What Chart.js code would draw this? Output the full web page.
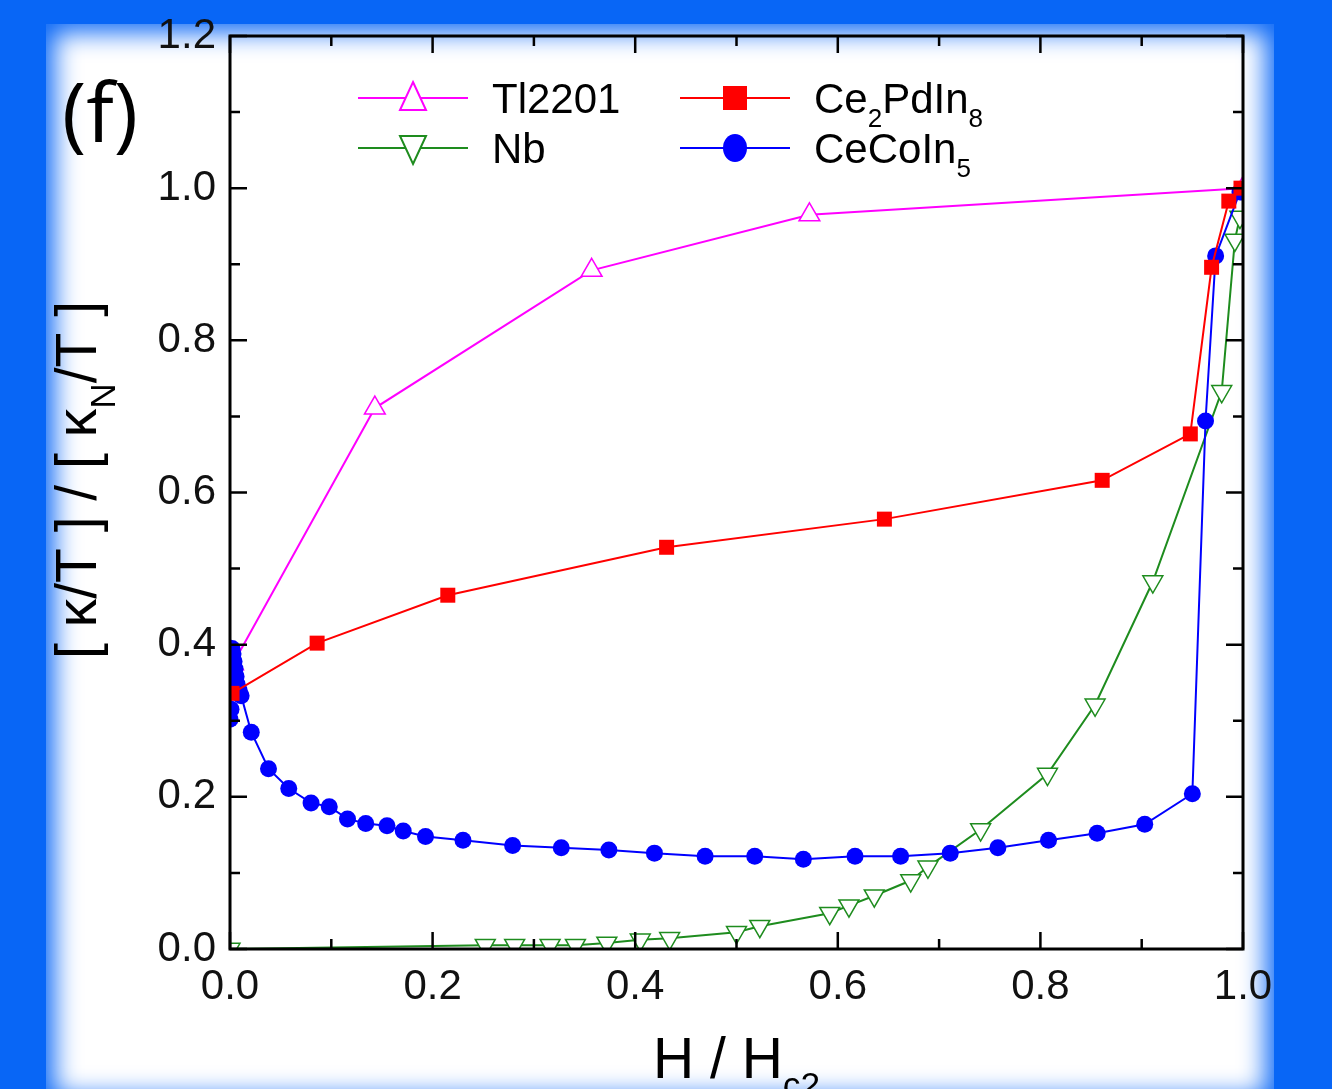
<!DOCTYPE html>
<html lang="en">
<head>
  <meta charset="UTF-8">
  <title>Normalized thermal conductivity vs H / Hc2</title>
  <script src="https://cdn.jsdelivr.net/npm/chart.js"></script>
  <style>
    body {
      margin: 0;
      background: #0866f6;
      overflow: hidden;
    }
    #wrap {
      position: relative;
      width: 1332px;
      height: 1089px;
    }
    #panel {
      position: absolute;
      left: 46px;
      top: 24px;
      width: 1228px;
      height: 1080px;
      background: #fff;
      box-shadow: inset 0 0 26px 8px #0866f6;
    }
    #chart-container {
      position: absolute;
      left: 0;
      top: 0;
      width: 1332px;
      height: 1089px;
    }
  </style>
</head>
<body>

  <div id="wrap">
    <div id="panel"></div>
    <div id="chart-container">
      <canvas id="chart"></canvas>
    </div>
  </div>

  <script>
    // Tl2201 (open up triangles, magenta)
    const tlX = [0.003, 0.143, 0.357, 0.572, 1.0];
    const tlY = [0.375, 0.711, 0.892, 0.965, 1.0];

    // Nb (open down triangles, green)
    const nbX = [0.0, 0.252, 0.281, 0.316, 0.341, 0.372, 0.405, 0.434, 0.500, 0.523, 0.592, 0.611,
                 0.636, 0.672, 0.689, 0.741, 0.807, 0.854, 0.911, 0.979, 0.992, 0.997];
    const nbY = [0.0, 0.005, 0.005, 0.005, 0.005, 0.008, 0.012, 0.014, 0.022, 0.030, 0.047, 0.057,
                 0.070, 0.090, 0.108, 0.157, 0.230, 0.321, 0.483, 0.733, 0.932, 0.962];

    // Ce2PdIn8 (filled squares, red)
    const cpX = [0.002, 0.086, 0.215, 0.431, 0.646, 0.861, 0.948, 0.969, 0.986, 0.998];
    const cpY = [0.336, 0.402, 0.465, 0.528, 0.565, 0.616, 0.677, 0.896, 0.983, 1.0];

    // CeCoIn5 (filled circles, blue)
    const ccX = [0.000, 0.001, 0.002, 0.003, 0.004, 0.005, 0.006, 0.007, 0.009, 0.011, 0.021, 0.038,
                 0.058, 0.080, 0.098, 0.116, 0.134, 0.155, 0.171, 0.193, 0.230, 0.279, 0.327, 0.374,
                 0.419, 0.469, 0.518, 0.566, 0.617, 0.662, 0.711, 0.758, 0.808, 0.856, 0.903, 0.950,
                 0.963, 0.973, 0.997];
    const ccY = [0.302, 0.315, 0.395, 0.388, 0.378, 0.368, 0.358, 0.348, 0.340, 0.333, 0.285, 0.237,
                 0.211, 0.192, 0.187, 0.171, 0.165, 0.162, 0.155, 0.148, 0.143, 0.136, 0.133, 0.130,
                 0.126, 0.122, 0.122, 0.118, 0.122, 0.122, 0.126, 0.133, 0.143, 0.152, 0.164, 0.204,
                 0.694, 0.911, 0.995];

    const xTicks = [0, 0.2, 0.4, 0.6, 0.8, 1.0];
    const yTicks = [0, 0.2, 0.4, 0.6, 0.8, 1.0, 1.2];

    const MAGENTA = '#ff00ff', GREEN = '#1e8c1e', RED = '#ff0000', BLUE = '#0000ff';
    const FONT = '"Liberation Sans", Arial, sans-serif';

    const pts = (xs, ys) => xs.map((x, i) => ({ x: x, y: ys[i] }));

    // text with subscripts: parts = [[text, isSub], ...]
    function richWidth(ctx, parts, size) {
      let w = 0;
      parts.forEach(p => {
        ctx.font = (p[1] ? size * 0.62 : size) + 'px ' + FONT;
        w += ctx.measureText(p[0]).width;
      });
      return w;
    }
    function drawRich(ctx, parts, x, y, size) {
      ctx.textBaseline = 'alphabetic';
      ctx.textAlign = 'left';
      parts.forEach(p => {
        ctx.font = (p[1] ? size * 0.62 : size) + 'px ' + FONT;
        ctx.fillText(p[0], x, p[1] ? y + size * 0.34 : y);
        x += ctx.measureText(p[0]).width;
      });
    }

    function marker(ctx, type, color, cx, cy) {
      ctx.save();
      ctx.strokeStyle = color;
      ctx.fillStyle = color;
      ctx.lineWidth = 2;
      ctx.beginPath();
      if (type === 'up') {
        ctx.moveTo(cx, cy - 16); ctx.lineTo(cx + 13, cy + 12); ctx.lineTo(cx - 13, cy + 12); ctx.closePath();
        ctx.fillStyle = '#fff'; ctx.fill(); ctx.stroke();
      } else if (type === 'down') {
        ctx.moveTo(cx, cy + 16); ctx.lineTo(cx + 13, cy - 12); ctx.lineTo(cx - 13, cy - 12); ctx.closePath();
        ctx.fillStyle = '#fff'; ctx.fill(); ctx.stroke();
      } else if (type === 'rect') {
        ctx.fillRect(cx - 12, cy - 12, 24, 24);
      } else {
        ctx.ellipse(cx, cy, 12, 14, 0, 0, Math.PI * 2);
        ctx.fill();
      }
      ctx.restore();
    }

    const decor = {
      id: 'decor',
      afterDraw(chart) {
        const ctx = chart.ctx, a = chart.chartArea;
        const xs = chart.scales.x, ys = chart.scales.y;
        ctx.save();
        ctx.strokeStyle = '#000';
        ctx.lineWidth = 2.5;
        ctx.beginPath();
        for (let i = 0; i <= 10; i++) {
          const px = xs.getPixelForValue(i / 10), len = i % 2 ? 10 : 17;
          ctx.moveTo(px, a.bottom); ctx.lineTo(px, a.bottom - len);
          ctx.moveTo(px, a.top); ctx.lineTo(px, a.top + len);
        }
        for (let i = 0; i <= 12; i++) {
          const py = ys.getPixelForValue(i / 10), len = i % 2 ? 10 : 17;
          ctx.moveTo(a.left, py); ctx.lineTo(a.left + len, py);
          ctx.moveTo(a.right, py); ctx.lineTo(a.right - len, py);
        }
        ctx.stroke();
        ctx.lineWidth = 3;
        ctx.strokeRect(a.left, a.top, a.right - a.left, a.bottom - a.top);

        ctx.fillStyle = '#000';
        // panel label
        ctx.font = '82px "Open Sans", ' + FONT;
        ctx.textAlign = 'left';
        ctx.textBaseline = 'alphabetic';
        ctx.fillText('(f)', 62, 142);

        // x title
        const xt = [['H / H', 0], ['c2', 1]];
        drawRich(ctx, xt, 653, 1078, 57);

        // y title
        ctx.save();
        ctx.translate(96, 480);
        ctx.rotate(-Math.PI / 2);
        const yt = [['[ \u03ba/T ] / [ \u03ba', 0], ['N', 1], ['/T ]', 0]];
        const yw = richWidth(ctx, yt, 57);
        drawRich(ctx, yt, -yw / 2, 0, 57);
        ctx.restore();

        // legend
        const rows = [
          { type: 'up', color: MAGENTA, x: 358, y: 98, text: [['Tl2201', 0]] },
          { type: 'down', color: GREEN, x: 358, y: 148, text: [['Nb', 0]] },
          { type: 'rect', color: RED, x: 680, y: 98, text: [['Ce', 0], ['2', 1], ['PdIn', 0], ['8', 1]] },
          { type: 'circle', color: BLUE, x: 680, y: 148, text: [['CeCoIn', 0], ['5', 1]] }
        ];
        rows.forEach(r => {
          ctx.strokeStyle = r.color;
          ctx.lineWidth = 2;
          ctx.beginPath();
          ctx.moveTo(r.x, r.y); ctx.lineTo(r.x + 110, r.y);
          ctx.stroke();
          marker(ctx, r.type, r.color, r.x + 55, r.y);
          ctx.fillStyle = '#000';
          drawRich(ctx, r.text, r.x + 134, r.y + 15, 42);
        });
        ctx.restore();
      }
    };

    const ctx = document.getElementById('chart').getContext('2d');
    new Chart(ctx, {
      type: 'scatter',
      data: {
        datasets: [
          {
            label: 'Ce2PdIn8',
            data: pts(cpX, cpY),
            showLine: true,
            borderColor: RED,
            borderWidth: 2,
            pointStyle: 'rect',
            pointRadius: 10.6,
            pointBackgroundColor: RED,
            pointBorderColor: RED,
            pointBorderWidth: 0,
            order: 0,
            clip: 0
          },
          {
            label: 'CeCoIn5',
            data: pts(ccX, ccY),
            showLine: true,
            borderColor: BLUE,
            borderWidth: 2,
            pointStyle: 'circle',
            pointRadius: 8.5,
            pointBackgroundColor: BLUE,
            pointBorderColor: BLUE,
            pointBorderWidth: 0,
            order: 1,
            clip: 0
          },
          {
            label: 'Tl2201',
            data: pts(tlX, tlY),
            showLine: true,
            borderColor: MAGENTA,
            borderWidth: 2,
            pointStyle: 'triangle',
            pointRadius: 12,
            pointBackgroundColor: '#fff',
            pointBorderColor: MAGENTA,
            pointBorderWidth: 1.5,
            order: 2,
            clip: 0
          },
          {
            label: 'Nb',
            data: pts(nbX, nbY),
            showLine: true,
            borderColor: GREEN,
            borderWidth: 2,
            pointStyle: 'triangle',
            pointRotation: 180,
            pointRadius: 11.5,
            pointBackgroundColor: '#fff',
            pointBorderColor: GREEN,
            pointBorderWidth: 1.5,
            order: 3,
            clip: 0
          }
        ]
      },
      options: {
        responsive: true,
        maintainAspectRatio: false,
        animation: false,
        layout: { padding: { left: 0, right: 89, top: 36, bottom: 0 } },
        plugins: {
          legend: { display: false },
          tooltip: { enabled: false }
        },
        scales: {
          x: {
            type: 'linear',
            min: 0,
            max: 1.0,
            afterFit: s => { s.height = 140; s.paddingLeft = 0; s.paddingRight = 0; },
            afterBuildTicks: s => { s.ticks = xTicks.map(v => ({ value: v })); },
            grid: { display: false, drawTicks: false },
            border: { display: false },
            ticks: {
              padding: 13,
              color: '#111',
              font: { family: FONT, size: 42 },
              callback: v => v.toFixed(1)
            }
          },
          y: {
            type: 'linear',
            min: 0,
            max: 1.2,
            afterFit: s => { s.width = 230; s.paddingTop = 0; s.paddingBottom = 0; },
            afterBuildTicks: s => { s.ticks = yTicks.map(v => ({ value: v })); },
            grid: { display: false, drawTicks: false },
            border: { display: false },
            ticks: {
              padding: 14,
              color: '#111',
              font: { family: FONT, size: 42 },
              callback: v => v.toFixed(1)
            }
          }
        }
      },
      plugins: [decor]
    });
  </script>

</body>
</html>
